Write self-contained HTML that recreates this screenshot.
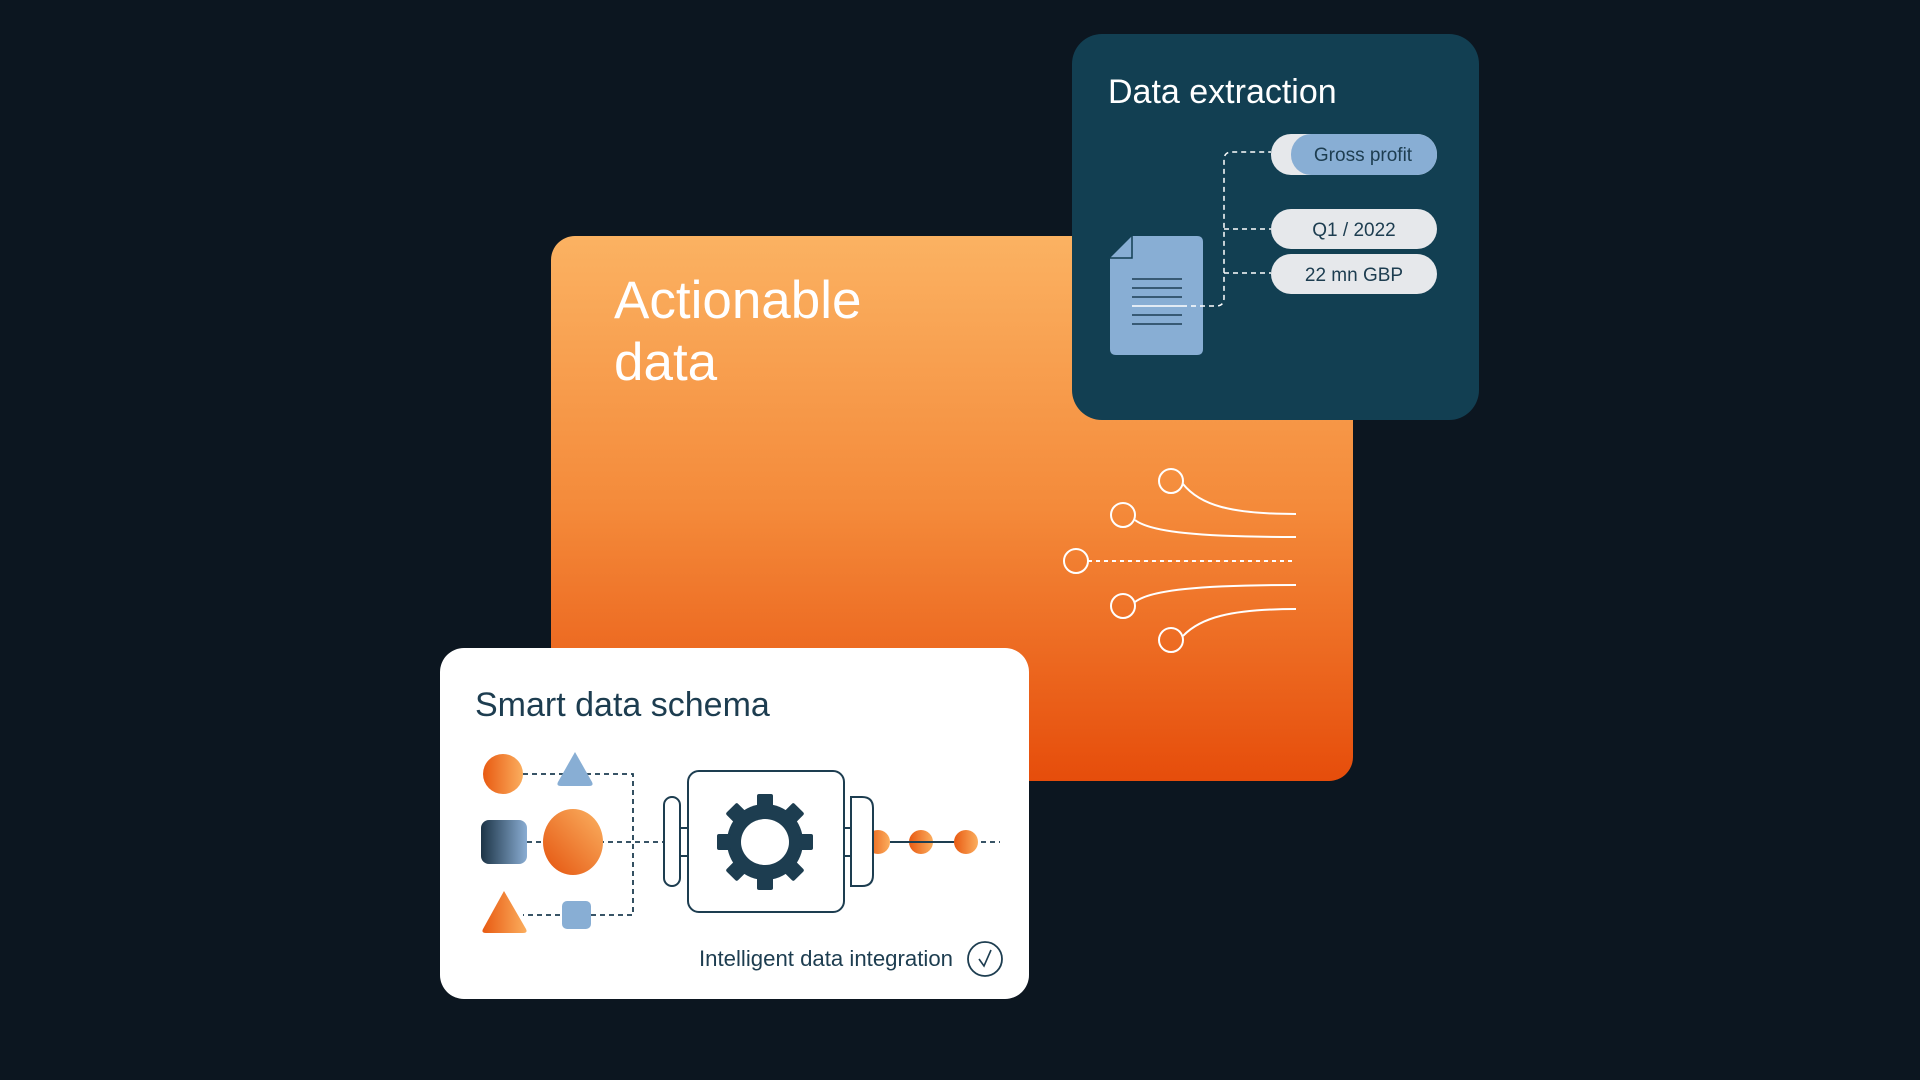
<!DOCTYPE html>
<html><head><meta charset="utf-8"><style>
html,body{margin:0;padding:0;background:#0c1620;}
svg{display:block}
text{font-family:"Liberation Sans",sans-serif}
</style></head><body>
<svg width="1920" height="1080" viewBox="0 0 1920 1080" xmlns="http://www.w3.org/2000/svg">
<defs>
<linearGradient id="og" x1="0" y1="0" x2="0" y2="1">
<stop offset="0" stop-color="#fbb262"/><stop offset="0.5" stop-color="#f48a3a"/><stop offset="1" stop-color="#e64d0b"/>
</linearGradient>
<linearGradient id="ball" x1="0" y1="1" x2="1" y2="0">
<stop offset="0" stop-color="#e4530e"/><stop offset="1" stop-color="#fbb262"/>
</linearGradient>
<linearGradient id="ballh" x1="0" y1="0" x2="1" y2="0">
<stop offset="0" stop-color="#e85a12"/><stop offset="1" stop-color="#fbae5e"/>
</linearGradient>
<linearGradient id="dk" x1="0" y1="0" x2="1" y2="0">
<stop offset="0" stop-color="#1c3446"/><stop offset="1" stop-color="#8aadd3"/>
</linearGradient>
</defs>
<rect width="1920" height="1080" fill="#0c1620"/>

<rect x="551" y="236" width="802" height="545" rx="24" fill="url(#og)"/>
<text x="614" y="318" font-size="53" fill="#fff">Actionable</text>
<text x="614" y="380" font-size="53" fill="#fff">data</text>
<g fill="none" stroke="#fff" stroke-width="2">
<path d="M1183,484 C1200,505 1230,514 1296,514"/>
<path d="M1135,520 C1150,532 1200,537 1296,537"/>
<path d="M1088,561 L1296,561" stroke-dasharray="4 4"/>
<path d="M1135,602 C1150,590 1200,585 1296,585"/>
<path d="M1183,636 C1200,618 1230,609 1296,609"/>
<circle cx="1171" cy="481" r="12"/>
<circle cx="1123" cy="515" r="12"/>
<circle cx="1076" cy="561" r="12"/>
<circle cx="1123" cy="606" r="12"/>
<circle cx="1171" cy="640" r="12"/>
</g>

<rect x="1072" y="34" width="407" height="386" rx="30" fill="#123f52"/>
<text x="1108" y="103" font-size="34" fill="#fff">Data extraction</text>
<path d="M1132,236 L1197,236 Q1203,236 1203,242 L1203,349 Q1203,355 1197,355 L1116,355 Q1110,355 1110,349 L1110,258 Z" fill="#88aed4"/>
<path d="M1110,258 L1132,258 L1132,236" fill="none" stroke="#123f52" stroke-width="1.5"/>
<g stroke="#1e3f55" stroke-width="1.5">
<line x1="1132" y1="279" x2="1182" y2="279"/><line x1="1132" y1="288" x2="1182" y2="288"/>
<line x1="1132" y1="297" x2="1182" y2="297"/><line x1="1132" y1="315" x2="1182" y2="315"/>
<line x1="1132" y1="324" x2="1182" y2="324"/>
</g>
<line x1="1132" y1="306" x2="1182" y2="306" stroke="#fff" stroke-width="1.5"/>
<path d="M1182,306 L1216,306 Q1224,306 1224,298 L1224,160 Q1224,152 1232,152 L1271,152 M1224,229 L1271,229 M1224,273 L1271,273" fill="none" stroke="#fff" stroke-width="1.5" stroke-dasharray="5 4"/>
<rect x="1271" y="134" width="166" height="41" rx="20" fill="#e6e8eb"/>
<rect x="1291" y="134" width="146" height="41" rx="20" fill="#88aed4"/>
<text x="1363" y="161" font-size="19" fill="#1d3d50" text-anchor="middle">Gross profit</text>
<rect x="1271" y="209" width="166" height="40" rx="20" fill="#e6e8eb"/>
<text x="1354" y="236" font-size="19" fill="#1d3d50" text-anchor="middle">Q1 / 2022</text>
<rect x="1271" y="254" width="166" height="40" rx="20" fill="#e6e8eb"/>
<text x="1354" y="281" font-size="19" fill="#1d3d50" text-anchor="middle">22 mn GBP</text>

<rect x="440" y="648" width="589" height="351" rx="24" fill="#fff"/>
<text x="475" y="716" font-size="34" fill="#1d3d50">Smart data schema</text>
<g fill="none" stroke="#1d3d50" stroke-width="1.8" stroke-dasharray="5 4">
<path d="M523,774 L633,774 L633,915 L523,915"/>
<path d="M527,842 L664,842"/>
<path d="M873,842 L1000,842"/>
</g>
<circle cx="503" cy="774" r="20" fill="url(#ballh)"/>
<path d="M575,752 L592,782 Q594,786 589,786 L561,786 Q556,786 558,782 Z" fill="#88aed4"/>
<rect x="481" y="820" width="46" height="44" rx="8" fill="url(#dk)"/>
<ellipse cx="573" cy="842" rx="30" ry="33" fill="url(#ball)"/>
<path d="M504,891 L526,929 Q528,933 523,933 L486,933 Q481,933 483,929 Z" fill="url(#ballh)"/>
<rect x="562" y="901" width="29" height="28" rx="5" fill="#88aed4"/>
<circle cx="878" cy="842" r="12" fill="url(#ballh)"/>
<circle cx="921" cy="842" r="12" fill="url(#ballh)"/>
<circle cx="966" cy="842" r="12" fill="url(#ballh)"/>
<line x1="890" y1="842" x2="954" y2="842" stroke="#1d3d50" stroke-width="2"/>
<g fill="none" stroke="#1d3d50" stroke-width="2">
<rect x="664" y="797" width="16" height="89" rx="8" fill="#fff"/>
<line x1="680" y1="828" x2="688" y2="828"/><line x1="680" y1="856" x2="688" y2="856"/>
<rect x="688" y="771" width="156" height="141" rx="11"/>
<line x1="844" y1="828" x2="851" y2="828"/><line x1="844" y1="856" x2="851" y2="856"/>
<path d="M851,797 L862,797 Q873,797 873,808 L873,875 Q873,886 862,886 L851,886 Z" fill="#fff"/>
</g>
<g transform="translate(765,842)" fill="#1d3d50">
<circle r="38"/>
<g id="t"><rect x="-8" y="-48" width="16" height="14" rx="2"/></g>
<use href="#t" transform="rotate(45)"/><use href="#t" transform="rotate(90)"/><use href="#t" transform="rotate(135)"/>
<use href="#t" transform="rotate(180)"/><use href="#t" transform="rotate(225)"/><use href="#t" transform="rotate(270)"/><use href="#t" transform="rotate(315)"/>
<ellipse rx="24" ry="23" fill="#fff"/>
</g>
<text x="699" y="966" font-size="22" fill="#1d3d50" textLength="254" lengthAdjust="spacingAndGlyphs">Intelligent data integration</text>
<circle cx="985" cy="959" r="17" fill="none" stroke="#1d3d50" stroke-width="1.8"/>
<path d="M979,959 L984,966 L991,950" fill="none" stroke="#1d3d50" stroke-width="1.6"/>
</svg>
</body></html>
